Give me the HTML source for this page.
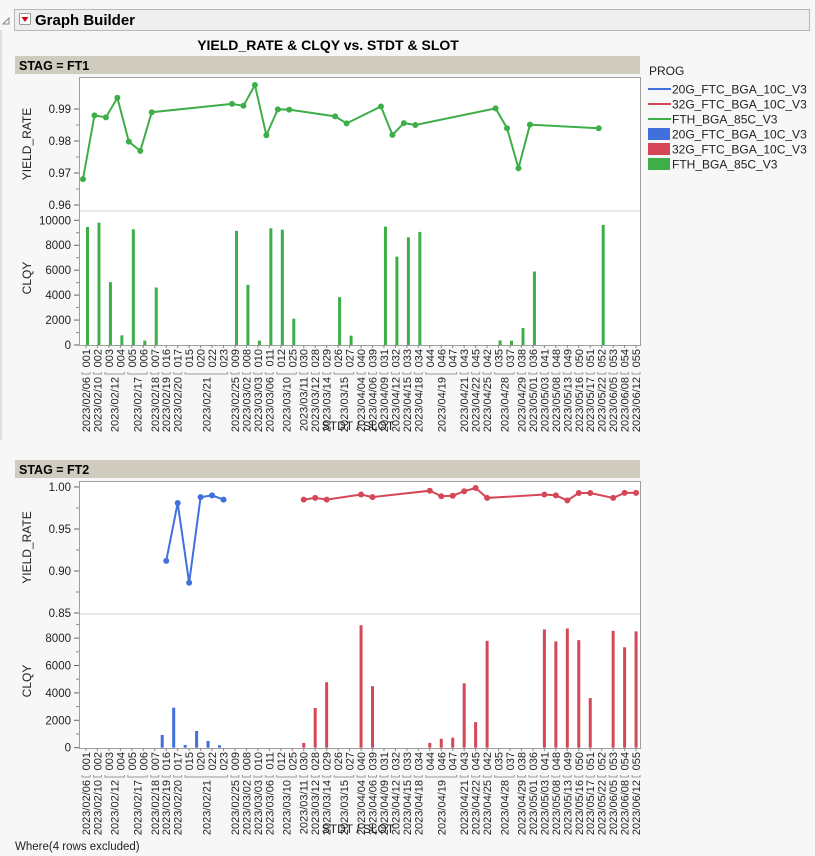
<!DOCTYPE html>
<html><head><meta charset="utf-8">
<style>
body{margin:0;width:815px;height:856px;background:#f7f7f7;font-family:"Liberation Sans",sans-serif;overflow:hidden}
svg{position:absolute;left:0;top:0}
text{font-family:"Liberation Sans",sans-serif}
</style></head>
<body>
<svg id="chart" width="815" height="856">
  <rect x="0" y="0" width="815" height="856" fill="#f7f7f7"/>
  <line x1="1" y1="30" x2="1" y2="440" stroke="#c8c8c8"/>
  <path d="M3,24 L9,18 L9,24 Z" fill="none" stroke="#888"/>
  <rect x="14.5" y="9.5" width="795" height="21" fill="#eeeeee" stroke="#b8b8b8"/>
  <rect x="19.5" y="13.5" width="11" height="11" fill="#fff" stroke="#999" rx="1"/>
  <path d="M21.5,17 L28.5,17 L25,22 Z" fill="#d0021b"/>
  <text x="35" y="25" font-size="15" font-weight="bold" fill="#000">Graph Builder</text>
  <text x="328" y="50" font-size="14" font-weight="bold" text-anchor="middle" fill="#000">YIELD_RATE &amp; CLQY vs. STDT &amp; SLOT</text>
  <g id="legend">
    <text x="649" y="75" font-size="12" fill="#222">PROG</text>
  </g>
  <text x="15" y="850" font-size="11.5" fill="#222">Where(4 rows excluded)</text>
</svg>
<script>
const slots=["001","002","003","004","005","006","007","016","017","015","020","022","023","009","008","010","011","012","025","030","028","029","026","027","040","039","031","032","033","034","044","046","047","043","045","042","035","037","038","036","041","048","049","050","051","052","053","054","055"];
const slotDates=["02/06","02/10","02/12","02/12","02/17","02/17","02/18","02/19","02/20","02/21","02/21","02/21","02/21","02/25","03/02","03/03","03/06","03/10","03/10","03/11","03/12","03/14","03/15","03/15","04/04","04/06","04/09","04/12","04/15","04/18","04/19","04/19","04/19","04/21","04/22","04/25","04/28","04/28","04/29","05/01","05/03","05/08","05/13","05/16","05/17","05/22","06/05","06/08","06/12"];
const progNames=["20G_FTC_BGA_10C_V3","32G_FTC_BGA_10C_V3","FTH_BGA_85C_V3"];
// FT1 - FTH
const ft1FthSlots=["001","002","003","004","005","006","007","009","008","010","011","012","025","026","027","031","032","033","034","035","037","038","036","052"];
const ft1FthYield=[0.9681,0.9880,0.9874,0.9935,0.9798,0.9769,0.9890,0.9916,0.9910,0.9975,0.9818,0.9899,0.9898,0.9877,0.9855,0.9908,0.9819,0.9856,0.9850,0.9902,0.9840,0.9715,0.9851,0.9840];
const ft1FthClqy=[9470,9810,5040,770,9280,350,4610,9150,4830,350,9360,9250,2110,3840,750,9490,7090,8640,9070,370,350,1360,5890,9630];
// FT2 - 20G
const ft2G20Slots=["016","017","015","020","022","023"];
const ft2G20Yield=[0.912,0.981,0.886,0.988,0.990,0.985];
const ft2G20Clqy=[930,2920,200,1220,490,180];
// FT2 - 32G
const ft2G32Slots=["030","028","029","040","039","044","046","047","043","045","042","041","048","049","050","051","053","054","055"];
const ft2G32Yield=[0.985,0.987,0.985,0.991,0.988,0.9956,0.989,0.9896,0.995,0.9988,0.987,0.991,0.990,0.984,0.9928,0.9928,0.987,0.993,0.993];
const ft2G32Clqy=[350,2900,4780,8935,4490,350,650,730,4700,1870,7800,8630,7760,8700,7850,3620,8530,7330,8490];
const ft1YieldTicks=[0.99,0.98,0.97,0.96];
const ft2YieldTicks=[1.00,0.95,0.90,0.85];
const clqyTicksFt1=[0,2000,4000,6000,8000,10000];
const clqyTicksFt2=[0,2000,4000,6000,8000];

const colors=["#4170dc","#d54757","#3eae48"];
const NS="http://www.w3.org/2000/svg";
const svg=document.getElementById('chart');
function el(tag,attrs,parent){const e=document.createElementNS(NS,tag);for(const k in attrs)e.setAttribute(k,attrs[k]);(parent||svg).appendChild(e);return e;}
function xPos(slot){const i=slots.indexOf(slot);return 86+i*11.46;}

function panel(P){
  const g=el('g',{});
  
  
  const strip=el('rect',{x:15,y:P.stripY,width:625,height:18,fill:'#cfccbf'},g);
  
  
  const st=el('text',{x:19,y:P.stripY+14,'font-size':12.5,'font-weight':'bold',fill:'#000'},g);
  st.textContent='STAG = '+P.label;
  
  
  const frame=el('rect',{x:79.5,y:P.top+0.5,width:561,height:P.bottom-P.top,fill:'#fff',stroke:'#a0a0a0'},g);
  
  
  const dv=el('line',{x1:80,x2:640,y1:P.div,y2:P.div,stroke:'#d0d0d0'},g);
  
  
  // yield axis
  P.yTicks.forEach((v,i)=>{
    const y=P.yScale(v);
    const t=el('line',{x1:74,x2:79,y1:y,y2:y,stroke:'#666'},g);
    
    
    const tx=el('text',{x:71,y:y+4,'font-size':11.5,'text-anchor':'end',fill:'#222'},g);
    tx.textContent=v.toFixed(2);
    
    
    if(i<P.yTicks.length-1){const y2=(y+P.yScale(P.yTicks[i+1]))/2;const m=el('line',{x1:76,x2:79,y1:y2,y2:y2,stroke:'#888'},g);
      
      }
  });
  P.cTicks.forEach((v,i)=>{
    const y=P.cScale(v);
    const t=el('line',{x1:74,x2:79,y1:y,y2:y,stroke:'#666'},g);
    
    
    const tx=el('text',{x:71,y:y+4,'font-size':11.5,'text-anchor':'end',fill:'#222'},g);
    tx.textContent=v;
    
    
    const y2=P.cScale(v+1000);
    if(y2>P.div){const m=el('line',{x1:76,x2:79,y1:y2,y2:y2,stroke:'#888'},g);
      
      }
  });
  const yl=el('text',{x:0,y:0,'font-size':12,'text-anchor':'middle',fill:'#222',transform:`translate(31,${(P.top+P.div)/2}) rotate(-90)`},g);
  yl.textContent='YIELD_RATE';
  
  
  const cl=el('text',{x:0,y:0,'font-size':12,'text-anchor':'middle',fill:'#222',transform:`translate(31,${(P.div+P.bottom)/2}) rotate(-90)`},g);
  cl.textContent='CLQY';
  
  
  // x axis labels
  slots.forEach((s,i)=>{
    const x=86+i*11.46;
    const tk=el('line',{x1:x,x2:x,y1:P.bottom,y2:P.bottom+3,stroke:'#888'},g);
    
    
    const t=el('text',{x:0,y:0,'font-size':11,'text-anchor':'end',fill:'#222',transform:`translate(${x+4},${P.bottom+4}) rotate(-90)`},g);
    t.textContent=s;
    
    
  });
  let i=0;
  while(i<slots.length){
    let j=i;while(j+1<slots.length&&slotDates[j+1]===slotDates[i])j++;
    const x1=86+i*11.46-4,x2=86+j*11.46+4,xc=(x1+x2)/2;
    const b=el('path',{d:`M${x1},${P.bottom+27} L${x1},${P.bottom+29} L${x2},${P.bottom+29} L${x2},${P.bottom+27}`,fill:'none',stroke:'#999'},g);
    
    
    const t=el('text',{x:0,y:0,'font-size':11,'text-anchor':'end',fill:'#222',transform:`translate(${xc+4},${P.bottom+32}) rotate(-90)`},g);
    t.textContent='2023/'+slotDates[i];
    
    
    i=j+1;
  }
  const xt=el('text',{x:358,y:P.bottom+85,'font-size':12,'text-anchor':'middle',fill:'#222'},g);
  xt.textContent='STDT / SLOT';
  
  
  // series
  P.series.forEach(S=>{
    const col=colors[S.prog];
    S.slots.forEach((s,k)=>{
      const x=xPos(s)+S.barOff,y=P.cScale(S.clqy[k]);
      const r=el('rect',{x:x-1.5,y:y,width:3,height:P.cScale(0)-y,fill:col},g);
      
      
    });
    const pts=S.slots.map((s,k)=>[xPos(s)+S.ptOff,P.yScale(S.yield[k])]);
    const pl=el('polyline',{points:pts.map(p=>p.join(',')).join(' '),fill:'none',stroke:col,'stroke-width':2},g);
    
    
    pts.forEach((p,k)=>{
      const c=el('circle',{cx:p[0],cy:p[1],r:3,fill:col},g);
      
      
    });
  });
}
panel({name:'ft1',label:'FT1',stripY:56,top:77,div:211,bottom:345,
  yTicks:ft1YieldTicks,yScale:v=>109+(0.99-v)*3200,
  cTicks:clqyTicksFt1,cScale:v=>345-v*0.01247,
  series:[{prog:2,slots:ft1FthSlots,yield:ft1FthYield,clqy:ft1FthClqy,barOff:1.5,ptOff:-3}]});
panel({name:'ft2',label:'FT2',stripY:460,top:481,div:614,bottom:748,
  yTicks:ft2YieldTicks,yScale:v=>487+(1.0-v)*840,
  cTicks:clqyTicksFt2,cScale:v=>747.7-v*0.0137,
  series:[{prog:0,slots:ft2G20Slots,yield:ft2G20Yield,clqy:ft2G20Clqy,barOff:-4,ptOff:0},
          {prog:1,slots:ft2G32Slots,yield:ft2G32Yield,clqy:ft2G32Clqy,barOff:0,ptOff:0}]});
// legend
const lg=document.getElementById('legend');
progNames.forEach((n,i)=>{
  const y=89+i*15;
  const l=el('line',{x1:648,x2:671,y1:y,y2:y,stroke:colors[i],'stroke-width':2},lg);
  
  
  const t=el('text',{x:672,y:y+4.5,'font-size':12,fill:'#222'},lg);
  t.textContent=n;
  
  
});
progNames.forEach((n,i)=>{
  const y=134+i*15;
  const r=el('rect',{x:648,y:y-6,width:22,height:12,fill:colors[i]},lg);
  
  
  const t=el('text',{x:672,y:y+4.5,'font-size':12,fill:'#222'},lg);
  t.textContent=n;
  
  
});
</script>
</body></html>
